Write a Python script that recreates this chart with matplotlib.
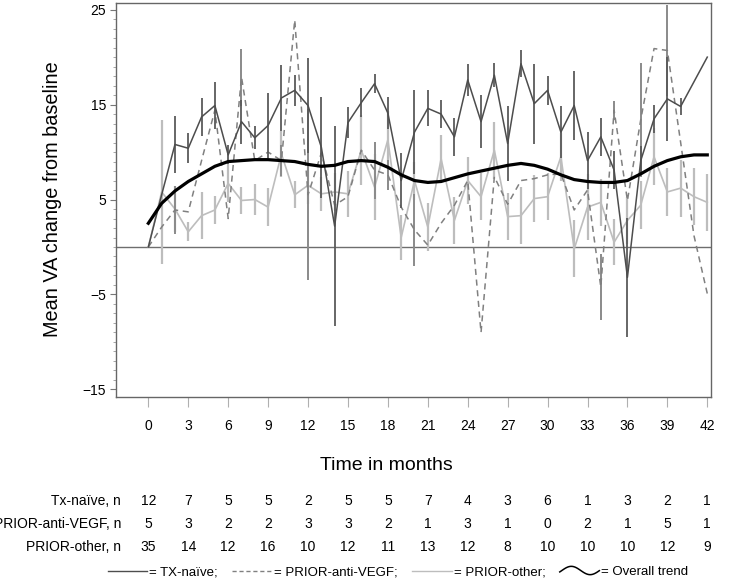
import numpy as np
import matplotlib
matplotlib.use("Agg")
import matplotlib.pyplot as plt
from matplotlib.lines import Line2D
from matplotlib.legend_handler import HandlerBase
from matplotlib.ticker import MultipleLocator
import matplotlib.transforms as mtransforms

plt.rcParams['font.family'] = ['Liberation Sans', 'DejaVu Sans']

# =========================================
# DATA
# =========================================

months = list(range(43))

tx_naive = [0, 5.5, 10.8, 10.4, 13.7, 14.9, 9.7, 13.2, 11.5, 12.8, 15.7, 16.5, 14.9, 10.5,
            2.2, 13.1, 15.2, 17.2, 14.1, 7.0, 12.1, 14.6, 14.0, 11.6, 17.6, 13.2, 18.1, 10.9,
            19.3, 15.1, 16.5, 12.1, 14.9, 9.1, 11.6, 8.1, -3.2, 9.1, 13.5, 15.6, 14.8, 17.4, 20.0]
tx_err = [0, 0, 3.0, 1.6, 2.0, 2.5, 1.0, 2.3, 1.2, 3.4, 3.5, 1.6, 5.0, 5.3,
          10.5, 1.6, 1.5, 1.0, 1.7, 2.9, 4.4, 1.9, 1.5, 2.0, 1.7, 2.8, 1.3, 4.0,
          1.4, 4.2, 1.5, 2.7, 3.6, 3.0, 2.0, 2.0, 6.3, 1.5, 1.5, 4.4, 0.9, 0, 0]

anti_vegf = [0, 2.1, 3.9, 3.7, 9.1, 14.4, 3.0, 17.9, 9.1, 10.0, 9.1, 23.9, 5.5, 9.9,
             4.4, 5.3, 10.2, 8.1, 7.6, 4.2, 1.8, 0.2, 2.5, 4.4, 7.0, -9.0, 7.4, 4.5,
             7.0, 7.2, 7.6, 7.7, 3.9, 6.0, -4.2, 14.4, 4.9, 13.4, 20.9, 20.7, 11.0, 1.2, -4.9]
anti_err = [0, 0, 2.5, 0, 0, 0, 0, 3.0, 0, 0, 1.6, 0, 9.0, 0,
            0, 0, 0, 3.0, 1.6, 0, 3.8, 0, 0, 0, 0, 0, 0, 0,
            0, 0, 0, 0, 0, 0, 3.5, 1.0, 0, 6.0, 0, 4.8, 0, 0, 0]

prior_other = [0, 5.8, 4.0, 1.6, 3.3, 3.9, 6.7, 4.9, 5.0, 4.2, 9.8, 5.5, 6.5, 5.6,
               5.8, 5.6, 10.2, 6.3, 11.3, 1.0, 7.0, 2.1, 9.3, 2.8, 7.0, 5.3, 10.2, 3.2,
               3.3, 5.1, 5.3, 9.5, -0.2, 4.2, 4.7, 0.5, 2.8, 4.4, 9.5, 5.8, 6.2, 5.3, 4.7]
other_err = [0, 7.6, 2.4, 1.0, 2.5, 1.5, 2.0, 1.4, 1.6, 2.0, 2.4, 1.4, 2.0, 1.8,
             2.0, 2.4, 3.7, 3.5, 3.0, 2.4, 2.0, 2.5, 2.5, 2.5, 2.5, 2.5, 3.0, 2.5,
             3.0, 2.5, 2.5, 2.5, 3.0, 3.5, 2.5, 2.4, 2.5, 2.5, 3.0, 2.5, 3.0, 3.0, 3.0]

trend = [2.5, 4.6, 5.9, 6.9, 7.7, 8.5, 9.0, 9.1, 9.2, 9.2, 9.1, 9.0, 8.7, 8.5,
         8.6, 9.0, 9.1, 9.0, 8.4, 7.6, 7.0, 6.8, 6.9, 7.3, 7.7, 8.0, 8.3, 8.6,
         8.8, 8.6, 8.2, 7.6, 7.1, 6.9, 6.8, 6.8, 7.0, 7.7, 8.5, 9.1, 9.5, 9.7, 9.7]

tick_months = [0, 3, 6, 9, 12, 15, 18, 21, 24, 27, 30, 33, 36, 39, 42]
y_ticks = [-15, -5, 5, 15, 25]
y_tick_labels = ['\u221215', '\u22125', '5', '15', '25']

row_labels = ['Tx-na\u00efve, n', 'PRIOR-anti-VEGF, n', 'PRIOR-other, n']
tx_n = [12, 7, 5, 5, 2, 5, 5, 7, 4, 3, 6, 1, 3, 2, 1]
anti_n = [5, 3, 2, 2, 3, 3, 2, 1, 3, 1, 0, 2, 1, 5, 1]
other_n = [35, 14, 12, 16, 10, 12, 11, 13, 12, 8, 10, 10, 10, 12, 9]

legend_labels = ['= TX-na\u00efve;', '= PRIOR-anti-VEGF;', '= PRIOR-other;', '= Overall trend']

# =========================================
# COLOURS
# =========================================

c_tx = '#4d4d4d'
c_anti = '#808080'
c_other = '#bdbdbd'

# =========================================
# FIGURE
# =========================================

W, H = 750, 580
fig = plt.figure(figsize=(7.5, 5.8), dpi=100)
ax = fig.add_axes([116 / W, 1 - 397 / H, (711 - 116) / W, (397 - 3) / H])

ax.axhline(0, color='#6e6e6e', lw=1.0, zorder=1)

ax.errorbar(months, prior_other, yerr=other_err, fmt='none', ecolor=c_other,
            elinewidth=1.6, capsize=0, zorder=2)
ax.plot(months, prior_other, color=c_other, lw=1.2, zorder=3)

ax.errorbar(months, anti_vegf, yerr=anti_err, fmt='none', ecolor='#8a8a8a',
            elinewidth=1.4, capsize=0, zorder=4)
ax.plot(months, anti_vegf, color=c_anti, lw=1.1, dashes=(4, 3), zorder=5)

ax.errorbar(months, tx_naive, yerr=tx_err, fmt='none', ecolor='#5a5a5a',
            elinewidth=1.3, capsize=0, zorder=6)
ax.plot(months, tx_naive, color=c_tx, lw=1.1, zorder=7)

ax.plot(months, trend, color='black', lw=2.3, zorder=8)

# =========================================
# AXES
# =========================================

ax.set_xlim(-2.43, 42.28)
ax.set_ylim(-15.8, 25.7)

ax.set_xticks(tick_months)
ax.set_xticklabels([str(m) for m in tick_months], fontsize=10)
ax.set_yticks(y_ticks)
ax.set_yticklabels(y_tick_labels, fontsize=10)
ax.yaxis.set_minor_locator(MultipleLocator(1))

ax.tick_params(axis='x', which='major', length=7, width=0.8, color='#b0b0b0', pad=9)
ax.tick_params(axis='y', which='major', length=4, width=0.8, color='#777777', pad=3)
ax.tick_params(axis='y', which='minor', length=2.5, width=0.6, color='#999999')

for s in ax.spines.values():
    s.set_color('#666666')
    s.set_linewidth(1.0)

fig.text(53 / W, 1 - 199 / H, 'Mean VA change from baseline', rotation=90,
         ha='center', va='center', fontsize=14.3)
fig.text(386 / W, 1 - 466 / H, 'Time in months', ha='center', va='center', fontsize=14)

# =========================================
# NUMBER AT RISK TABLE
# =========================================

trans = mtransforms.blended_transform_factory(ax.transData, fig.transFigure)
row_y = [1 - 501 / H, 1 - 524 / H, 1 - 547 / H]

for label, counts, yy in zip(row_labels, [tx_n, anti_n, other_n], row_y):
    fig.text(121 / W, yy, label, ha='right', va='center', fontsize=10)
    for m, n in zip(tick_months, counts):
        ax.text(m, yy, str(n), transform=trans, ha='center', va='center',
                fontsize=10, clip_on=False)

# =========================================
# LEGEND
# =========================================


class WaveHandler(HandlerBase):
    def create_artists(self, legend, orig_handle, xdescent, ydescent,
                       width, height, fontsize, trans):
        t = np.linspace(0, 1, 40)
        x = -xdescent + width * t
        y = -ydescent + height * (0.5 + 0.45 * np.sin(2 * np.pi * t * 1.05 - 0.35))
        return [Line2D(x, y, color='black', lw=1.1, transform=trans)]


h_tx = Line2D([], [], color=c_tx, lw=1.0)
h_anti = Line2D([], [], color=c_anti, lw=1.0, dashes=(3, 2))
h_other = Line2D([], [], color=c_other, lw=1.0)
h_trend = object()

fig.legend([h_tx, h_anti, h_other, h_trend], legend_labels,
           handler_map={h_trend: WaveHandler()},
           loc='center', bbox_to_anchor=(398 / W, 1 - 572 / H), ncol=4,
           frameon=False, fontsize=9.5, handlelength=3.0, handletextpad=0.15,
           columnspacing=1.1)

fig.savefig('out.png', dpi=100)
